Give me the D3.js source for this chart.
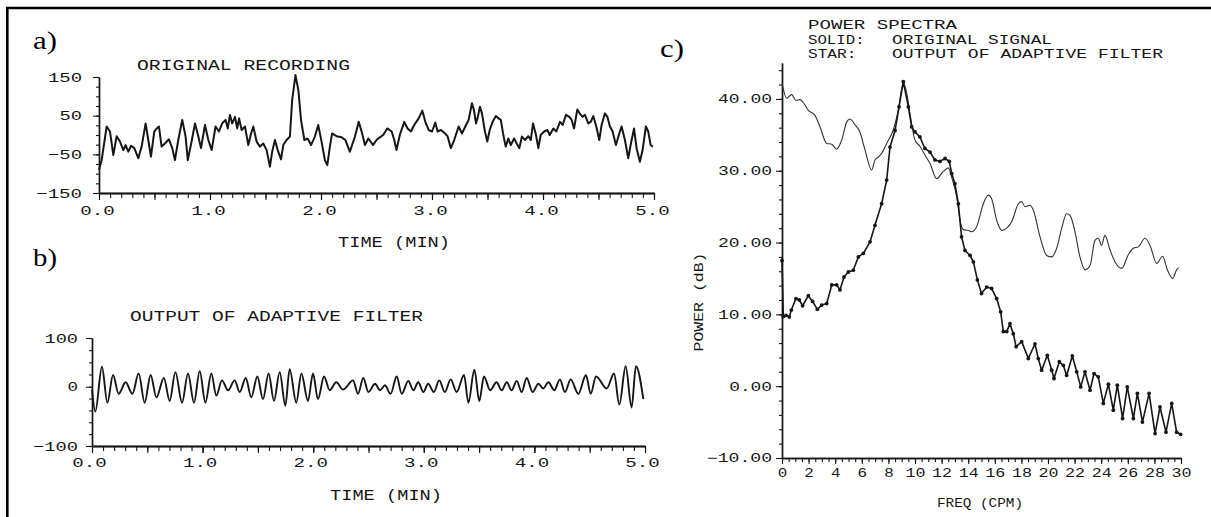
<!DOCTYPE html>
<html>
<head>
<meta charset="utf-8">
<script src="https://cdn.jsdelivr.net/npm/d3@7"></script>
<style>
  html, body { margin: 0; padding: 0; background: #fff; }
  svg { display: block; }
</style>
</head>
<body>
<svg id="fig" width="1211" height="517"></svg>
<script>
// ---------- a) original recording ----------
const recTime = [0.0, 0.024, 0.069, 0.099, 0.129, 0.159, 0.189, 0.219, 0.24, 0.264, 0.288, 0.318, 0.354, 0.384, 0.42, 0.444, 0.468, 0.498, 0.52, 0.54, 0.564, 0.594, 0.63, 0.66, 0.684, 0.714, 0.75, 0.78, 0.80, 0.834, 0.865, 0.895, 0.919, 0.955, 0.985, 1.015, 1.05, 1.08, 1.11, 1.14, 1.16, 1.18, 1.20, 1.225, 1.245, 1.262, 1.285, 1.315, 1.345, 1.37, 1.39, 1.42, 1.45, 1.48, 1.51, 1.54, 1.56, 1.585, 1.61, 1.64, 1.66, 1.69, 1.72, 1.74, 1.77, 1.796, 1.82, 1.85, 1.88, 1.91, 1.945, 1.975, 2.005, 2.035, 2.057, 2.08, 2.10, 2.14, 2.186, 2.22, 2.26, 2.306, 2.34, 2.366, 2.396, 2.426, 2.47, 2.50, 2.53, 2.56, 2.597, 2.637, 2.66, 2.68, 2.71, 2.75, 2.78, 2.81, 2.84, 2.88, 2.913, 2.94, 2.97, 3.00, 3.03, 3.05, 3.08, 3.11, 3.14, 3.17, 3.20, 3.24, 3.27, 3.30, 3.33, 3.36, 3.378, 3.396, 3.41, 3.432, 3.45, 3.477, 3.498, 3.52, 3.546, 3.576, 3.60, 3.62, 3.64, 3.664, 3.687, 3.71, 3.74, 3.763, 3.787, 3.81, 3.838, 3.868, 3.89, 3.91, 3.937, 3.958, 3.979, 4.01, 4.04, 4.06, 4.093, 4.12, 4.153, 4.177, 4.207, 4.237, 4.258, 4.28, 4.309, 4.33, 4.357, 4.378, 4.408, 4.43, 4.453, 4.48, 4.507, 4.528, 4.558, 4.58, 4.603, 4.627, 4.657, 4.687, 4.708, 4.738, 4.768, 4.792, 4.82, 4.843, 4.873, 4.897, 4.927, 4.948, 4.97, 4.99];
const recValue = [-90, -65, 22, 9, -52, -3, -17, -39, -26, -43, -28, -34, -60, -30, 30, -13, -56, 9, 17, 22, -30, -22, -11, -34, -65, -13, 39, -4, -65, -17, 30, -4, -34, 26, -13, -39, 22, 9, 30, 39, 17, 52, 30, 47, 17, 43, 13, 22, -26, 4, 22, -17, -30, -22, -39, -82, -43, -13, -39, -63, -26, -13, -4, 90, 155, 116, 39, -13, -9, -26, -4, 26, -17, -65, -78, -30, 4, -3, -6, -13, -43, -4, 34, 9, -26, -9, -26, -13, -6, 0, 17, 9, -13, -39, 0, 34, 17, 9, 26, 43, 63, 34, 13, 9, 32, 9, 13, 6, -3, -34, -13, 22, 4, 22, 39, 82, 65, 30, 43, 73, 56, 9, -17, 13, 34, 49, 43, 39, 4, -30, -9, -26, -9, -22, -34, -4, -13, -3, -13, 30, 0, -34, 0, 9, 13, 0, 17, 9, 34, 26, 52, 47, 39, 17, 66, 56, 47, 52, 30, 34, 49, 22, -13, 26, 56, 47, 22, 9, -26, 4, 22, -13, -60, -22, 17, -34, -69, -39, 22, 9, -26, -30];
const recTicks = [150, 50, -50, -150];

// ---------- b) adaptive filter output ----------
const filtTime = [0.0, 0.03, 0.09, 0.139, 0.19, 0.241, 0.304, 0.365, 0.422, 0.476, 0.53, 0.582, 0.65, 0.702, 0.754, 0.814, 0.868, 0.922, 0.974, 1.025, 1.079, 1.124, 1.175, 1.23, 1.29, 1.335, 1.39, 1.44, 1.495, 1.546, 1.597, 1.645, 1.697, 1.748, 1.787, 1.847, 1.893, 1.953, 1.998, 2.043, 2.098, 2.149, 2.209, 2.27, 2.36, 2.405, 2.453, 2.499, 2.559, 2.604, 2.649, 2.70, 2.755, 2.80, 2.86, 2.905, 2.95, 2.996, 3.04, 3.09, 3.14, 3.19, 3.243, 3.297, 3.364, 3.403, 3.457, 3.502, 3.544, 3.60, 3.658, 3.704, 3.75, 3.794, 3.84, 3.885, 3.93, 3.984, 4.036, 4.08, 4.126, 4.18, 4.231, 4.276, 4.328, 4.397, 4.466, 4.509, 4.557, 4.654, 4.72, 4.768, 4.825, 4.879, 4.918, 4.985];
const filtValue = [-5, -42, 41, -27, 24, -12, 9, -12, 27, -27, 24, -18, 18, -24, 30, -27, 27, -27, 32, -27, 27, -15, 13, -6, 13, -9, 18, -18, 21, -21, 27, -24, 30, -32, 36, -27, 27, -24, 27, -21, 21, -6, 9, -5, 13, -12, 18, -9, 6, -6, 3, -12, 21, -12, 12, -6, 9, -9, 6, -9, 13, -9, 15, -9, 24, -27, 35, -24, 21, -6, 9, -6, 9, -6, 12, -9, 18, -9, 6, -3, 9, -6, 15, -9, 15, -12, 24, -12, 21, -3, 27, -30, 42, -35, 42, -21];
const filtTicks = [100, 0, -100];
const timeTicks = [0, 1, 2, 3, 4, 5];

// ---------- c) power spectra ----------
const solidFreq = [0, 0.35, 0.73, 1.05, 1.35, 1.6, 1.98, 2.48, 2.86, 3.36, 3.74, 4.11, 4.49, 4.87, 5.11, 5.49, 5.86, 6.24, 6.74, 6.99, 7.24, 7.49, 7.87, 8.37, 8.74, 9.12, 9.37, 9.62, 9.99, 10.37, 10.75, 11.13, 11.63, 12.13, 12.5, 12.8, 13.13, 13.43, 13.63, 14.0, 14.26, 14.63, 15.14, 15.51, 15.76, 16.14, 16.52, 16.89, 17.27, 17.77, 18.02, 18.27, 18.65, 18.9, 19.4, 19.9, 20.28, 20.65, 21.03, 21.4, 21.65, 22.03, 22.4, 22.78, 23.16, 23.53, 23.78, 24.03, 24.28, 24.66, 25.04, 25.54, 26.04, 26.42, 26.79, 27.3, 27.67, 28.17, 28.62, 28.97, 29.37, 29.67, 29.82];
const solidPower = [42.2, 40.1, 40.6, 39.8, 39.9, 39.5, 38.4, 37.7, 36.1, 33.8, 33.7, 33.0, 34.3, 36.8, 37.2, 36.4, 35.4, 32.9, 30.1, 31.5, 31.9, 32.4, 33.8, 35.7, 38.4, 42.2, 40.9, 38.0, 34.3, 33.4, 32.2, 31.0, 28.9, 29.9, 30.4, 28.8, 26.4, 22.7, 21.8, 21.7, 21.5, 22.2, 25.4, 26.6, 26.1, 23.1, 21.7, 22.0, 22.9, 25.4, 25.7, 25.0, 25.2, 24.5, 20.8, 18.2, 18.0, 19.2, 22.0, 24.0, 23.8, 21.5, 18.0, 16.2, 16.8, 20.3, 20.6, 19.6, 21.0, 19.0, 17.3, 16.4, 18.3, 19.2, 19.4, 20.6, 19.6, 17.1, 18.1, 16.2, 15.0, 16.2, 16.5];
const starFreq = [0, 0.1, 0.3, 0.55, 0.7, 1.05, 1.3, 1.55, 1.98, 2.3, 2.66, 2.98, 3.36, 3.74, 4.11, 4.36, 4.66, 4.99, 5.36, 5.74, 6.12, 6.62, 6.99, 7.49, 7.87, 8.12, 8.5, 8.8, 9.12, 9.5, 9.75, 10.0, 10.37, 10.75, 11.13, 11.5, 11.88, 12.26, 12.58, 12.76, 13.0, 13.26, 13.5, 13.76, 14.14, 14.39, 14.69, 15.0, 15.39, 15.76, 16.14, 16.44, 16.64, 16.9, 17.14, 17.39, 17.6, 18.02, 18.52, 19.02, 19.27, 19.52, 19.95, 20.28, 20.45, 20.85, 21.15, 21.4, 21.83, 22.16, 22.46, 22.78, 23.16, 23.46, 23.78, 24.16, 24.54, 24.91, 25.21, 25.61, 25.96, 26.42, 26.72, 27.1, 27.6, 28.05, 28.42, 28.87, 29.3, 29.67, 29.97];
const starPower = [17.5, 9.7, 9.85, 9.65, 10.6, 12.2, 12.0, 11.2, 12.6, 11.8, 10.7, 11.3, 11.5, 14.1, 14.1, 13.4, 15.2, 15.9, 16.15, 18.0, 18.5, 20.1, 22.4, 25.4, 28.7, 33.3, 35.6, 38.9, 42.4, 38.9, 36.1, 35.4, 34.7, 33.1, 32.6, 31.5, 31.3, 31.7, 31.3, 29.6, 28.2, 25.4, 20.8, 18.9, 18.2, 17.3, 14.8, 12.9, 13.8, 13.6, 12.2, 10.35, 7.6, 7.6, 8.7, 7.3, 5.5, 6.2, 3.85, 5.9, 3.85, 2.23, 4.3, 2.23, 1.07, 3.4, 2.9, 1.5, 4.2, 2.0, -0.1, 2.0, -0.56, 1.76, 1.3, -2.4, 0.28, -3.35, 0.14, -4.5, -0.1, -4.5, -1.0, -5.0, -1.0, -6.6, -2.9, -6.4, -2.4, -6.4, -6.7];
const powerTicks = [40, 30, 20, 10, 0, -10];
const freqTicks = d3.range(0, 31, 2);

// ---------- drawing ----------
const svg = d3.select("#fig");
const INK = "#161616";
const PLOT_FONT = "'Liberation Mono', 'DejaVu Sans Mono', monospace";
const SERIF = "'Liberation Serif', 'DejaVu Serif', serif";

const zip = (xs, ys) => xs.map((x, i) => [x, ys[i]]);

// stretch each label so it spans roughly perChar px per character
function fitWidth(sel, perChar, trim) {
  sel.each(function () {
    const n = this.textContent.length;
    d3.select(this).attr("textLength", n * perChar - trim).attr("lengthAdjust", "spacingAndGlyphs");
  });
}

function plotText(x, y, str, size, width, anchor) {
  const t = svg.append("text")
    .attr("x", x).attr("y", y)
    .attr("font-family", PLOT_FONT).attr("font-size", size)
    .attr("fill", INK).attr("text-anchor", anchor || "start")
    .text(str);
  if (width) t.attr("textLength", width).attr("lengthAdjust", "spacingAndGlyphs");
  return t;
}

function styleAxis(g) {
  g.select(".domain").attr("stroke", INK).attr("stroke-width", 1.4);
  g.selectAll(".tick line").attr("stroke", INK).attr("stroke-width", 1.1);
  g.selectAll(".tick text").attr("font-family", PLOT_FONT).attr("fill", INK);
  return g;
}

function addAxis(gen, tx, ty) {
  return styleAxis(svg.append("g").attr("transform", `translate(${tx},${ty})`).call(gen));
}

// frame
svg.append("line").attr("x1", 6).attr("x2", 1211).attr("y1", 8).attr("y2", 8)
  .attr("stroke", "#000").attr("stroke-width", 2.6);
svg.append("line").attr("x1", 7.3).attr("x2", 7.3).attr("y1", 7).attr("y2", 517)
  .attr("stroke", "#000").attr("stroke-width", 2.6);

// panel letters
[["a)", 33, 49], ["b)", 33, 266], ["c)", 660, 57]].forEach(([s, x, y]) => {
  svg.append("text").attr("x", x).attr("y", y)
    .attr("font-family", SERIF).attr("font-size", 26).attr("fill", "#000")
    .attr("textLength", 24).attr("lengthAdjust", "spacingAndGlyphs").text(s);
});

// ---- panel a ----
const xa = d3.scaleLinear().domain([0, 5]).range([99, 654]);
const ya = d3.scaleLinear().domain([-150, 150]).range([193, 77]);

addAxis(d3.axisBottom(xa).tickValues(d3.range(0, 51).map(d => d / 10)).tickSize(5).tickSizeOuter(0).tickFormat(""), 0, 193);
addAxis(d3.axisBottom(xa).tickValues(d3.range(0, 11).map(d => d / 2)).tickSize(7).tickSizeOuter(0).tickFormat(""), 0, 193);
const axA = addAxis(d3.axisBottom(xa).tickValues(timeTicks).tickSize(7).tickSizeOuter(0).tickPadding(6).tickFormat(d3.format(".1f")), 0, 193);
axA.selectAll(".tick text").attr("font-size", 13).attr("dx", -2).call(fitWidth, 11.8, 1);

addAxis(d3.axisLeft(ya).tickValues(d3.range(-150, 151, 25)).tickSize(3).tickSizeOuter(0).tickFormat(""), 99, 0);
const ayA = addAxis(d3.axisLeft(ya).tickValues(recTicks).tickSize(6).tickSizeOuter(0).tickPadding(11).tickFormat(d3.format("d")), 99, 0);
ayA.selectAll(".tick text").attr("font-size", 13).call(fitWidth, 11.7, 1);

svg.append("path").datum(zip(recTime, recValue))
  .attr("fill", "none").attr("stroke", INK).attr("stroke-width", 2).attr("stroke-linejoin", "round")
  .attr("d", d3.line().x(d => xa(d[0])).y(d => ya(d[1])).curve(d3.curveLinear));

plotText(137, 70, "ORIGINAL RECORDING", 14.5, 213);
plotText(338, 247, "TIME (MIN)", 14.5, 112);

// ---- panel b ----
const xb = d3.scaleLinear().domain([0, 5]).range([92, 645]);
// the printed axis is not symmetric about zero: 0..100 is shorter than 0..-100
const yb = d3.scaleLinear().domain([-100, 0, 100]).range([446, 386.7, 338]);

addAxis(d3.axisBottom(xb).tickValues(d3.range(0, 51).map(d => d / 10)).tickSize(5).tickSizeOuter(0).tickFormat(""), 0, 446);
addAxis(d3.axisBottom(xb).tickValues(d3.range(0, 11).map(d => d / 2)).tickSize(7).tickSizeOuter(0).tickFormat(""), 0, 446);
const axB = addAxis(d3.axisBottom(xb).tickValues(timeTicks).tickSize(7).tickSizeOuter(0).tickPadding(5).tickFormat(d3.format(".1f")), 0, 446);
axB.selectAll(".tick text").attr("font-size", 13).attr("dx", -3).call(fitWidth, 11.8, 1);

const minorB = d3.range(-100, 0, 20).concat(d3.range(0, 101, 25));
addAxis(d3.axisLeft(yb).tickValues(minorB).tickSize(3).tickSizeOuter(0).tickFormat(""), 92, 0);
const ayB = addAxis(d3.axisLeft(yb).tickValues(filtTicks).tickSize(6).tickSizeOuter(0).tickPadding(8).tickFormat(d3.format("d")), 92, 0);
ayB.selectAll(".tick text").attr("font-size", 13).call(fitWidth, 11.5, 1);

svg.append("path").datum(zip(filtTime, filtValue))
  .attr("fill", "none").attr("stroke", INK).attr("stroke-width", 1.9).attr("stroke-linejoin", "round")
  .attr("d", d3.line().x(d => xb(d[0])).y(d => yb(d[1])).curve(d3.curveMonotoneX));

plotText(130, 321, "OUTPUT OF ADAPTIVE FILTER", 14.5, 293);
plotText(330, 500, "TIME (MIN)", 14.5, 112);

// ---- panel c ----
const xc = d3.scaleLinear().domain([0, 30]).range([782, 1181]);
const yc = d3.scaleLinear().domain([-10, 45]).range([458, 63]);

addAxis(d3.axisBottom(xc).tickValues(d3.range(0, 61).map(d => d / 2)).tickSize(4).tickSizeOuter(0).tickFormat(""), 0, 458);
const axC = addAxis(d3.axisBottom(xc).tickValues(freqTicks).tickSize(6).tickSizeOuter(0).tickPadding(4).tickFormat(d3.format("d")), 0, 458);
axC.selectAll(".tick text").attr("font-size", 12).call(fitWidth, 10.5, 1);

addAxis(d3.axisLeft(yc).tickValues(d3.range(-10, 46, 2)).tickSize(3).tickSizeOuter(0).tickFormat(""), 782, 0);
const ayC = addAxis(d3.axisLeft(yc).tickValues(powerTicks).tickSize(6).tickSizeOuter(0).tickPadding(4).tickFormat(d3.format(".2f")), 782, 0);
ayC.selectAll(".tick text").attr("font-size", 12).call(fitWidth, 11.2, 2);

svg.append("path").datum(zip(solidFreq, solidPower))
  .attr("fill", "none").attr("stroke", "#333").attr("stroke-width", 1.1)
  .attr("d", d3.line().x(d => xc(d[0])).y(d => yc(d[1])).curve(d3.curveMonotoneX));
const starData = zip(starFreq, starPower);
svg.append("path").datum(starData)
  .attr("fill", "none").attr("stroke", INK).attr("stroke-width", 1.6).attr("stroke-linejoin", "round")
  .attr("d", d3.line().x(d => xc(d[0])).y(d => yc(d[1])).curve(d3.curveLinear));
svg.append("g").selectAll("circle").data(starData).join("circle")
  .attr("cx", d => xc(d[0])).attr("cy", d => yc(d[1])).attr("r", 1.9).attr("fill", INK);

plotText(808, 29, "POWER SPECTRA", 13.5, 149);
const l2 = svg.append("text").attr("y", 43.5).attr("font-family", PLOT_FONT).attr("font-size", 13.5).attr("fill", INK);
l2.append("tspan").attr("x", 808).attr("textLength", 66).attr("lengthAdjust", "spacingAndGlyphs").text("SOLID: ");
l2.append("tspan").attr("x", 892).attr("textLength", 160).attr("lengthAdjust", "spacingAndGlyphs").text("ORIGINAL SIGNAL");
const l3 = svg.append("text").attr("y", 57.5).attr("font-family", PLOT_FONT).attr("font-size", 13.5).attr("fill", INK);
l3.append("tspan").attr("x", 808).attr("textLength", 58).attr("lengthAdjust", "spacingAndGlyphs").text("STAR: ");
l3.append("tspan").attr("x", 892).attr("textLength", 271).attr("lengthAdjust", "spacingAndGlyphs").text("OUTPUT OF ADAPTIVE FILTER");

plotText(937, 507, "FREQ (CPM)", 13.5, 86);
svg.append("text")
  .attr("transform", "translate(703,302) rotate(-90)")
  .attr("text-anchor", "middle")
  .attr("font-family", PLOT_FONT).attr("font-size", 13.5).attr("fill", INK)
  .attr("textLength", 99).attr("lengthAdjust", "spacingAndGlyphs")
  .text("POWER (dB)");
</script>
</body>
</html>
